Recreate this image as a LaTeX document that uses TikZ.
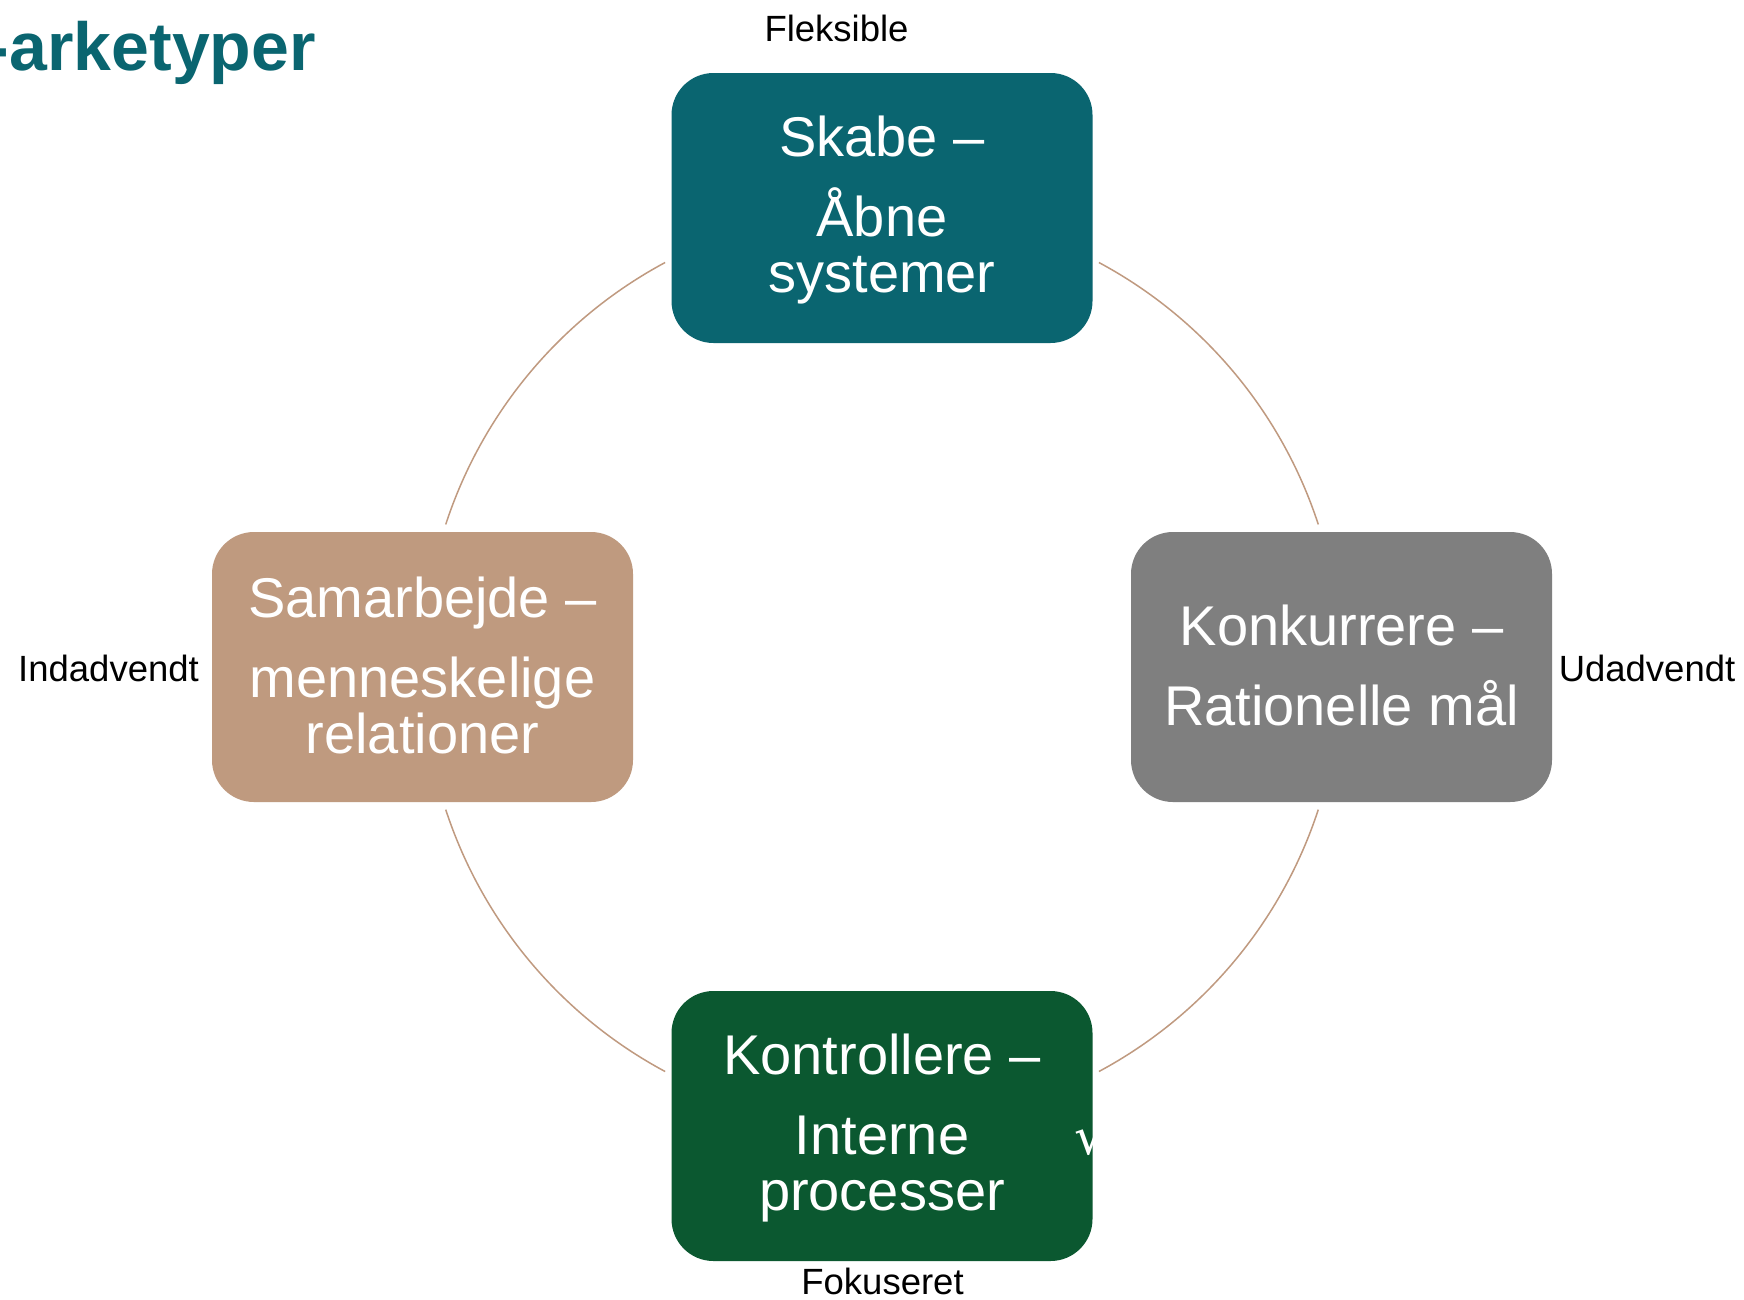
\documentclass[tikz,border=0pt]{standalone}
\usepackage{fontspec}
\setmainfont{Liberation Sans}
\newfontfamily\dejavu{DejaVu Sans}
\usetikzlibrary{calc}
\definecolor{tealbox}{HTML}{0A6570}
\definecolor{graybox}{HTML}{7F7F7F}
\definecolor{tanbox}{HTML}{BF9A7F}
\definecolor{greenbox}{HTML}{0B5830}
\definecolor{arccol}{HTML}{C09A80}
\begin{document}
\begin{tikzpicture}[x=1pt,y=-1pt,
  box/.style={rectangle, rounded corners=42pt, minimum width=421pt, minimum height=270pt, inner sep=0pt},
  boxtext/.style={text=white, align=center, inner sep=0pt, font=\fontsize{56}{56}\selectfont},
  lbl/.style={font=\fontsize{36.5}{40}\selectfont, inner sep=0pt, anchor=base, text=black},
  arcline/.style={draw=arccol, line width=1.5pt}]
\useasboundingbox (0,0) rectangle (1744,1299);
\fill[white] (0,0) rectangle (1744,1299);

% title (clipped at left edge)
\node[anchor=base east, inner sep=0pt, text=tealbox, font=\bfseries\fontsize{68}{68}\selectfont] (title) at (316,70) {-arketyper};

% centre of the cycle
\coordinate (C) at (882,667);

% boxes
\node[box, fill=tealbox] (skabe) at (882,208) {};
\node[box, fill=graybox] (konk) at (1341.5,667) {};
\node[box, fill=tanbox] (samar) at (422.5,667) {};
\node[box, fill=greenbox] (kontr) at (882,1126) {};

% box texts
\node[boxtext, yshift=-2.5pt] (skabeT) at (skabe) {Skabe –\\[24pt]Åbne\\systemer};
\node[boxtext, yshift=2pt] (konkT) at (konk) {Konkurrere –\\[24pt]Rationelle mål};
\node[boxtext, yshift=2pt] (samarT) at (samar) {Samarbejde –\\[24pt]menneskelige\\relationer};
\node[boxtext, yshift=-1.5pt] (kontrT) at (kontr) {Kontrollere –\\[24pt]Interne\\processer};

% white tick partly hidden at box edge
\node[inner sep=0pt, anchor=base west, text=white, font=\dejavu\fontsize{52}{52}\selectfont] (tick) at (1074,1154) {√};

% arcs
\coordinate (a1s) at ($(C)+(198.1:459)$);
\coordinate (a2s) at ($(C)+(298.2:459)$);
\coordinate (a3s) at ($(C)+(18.1:459)$);
\coordinate (a4s) at ($(C)+(118.2:459)$);
\draw[arcline] (a1s) arc[start angle=198.1, end angle=241.8, radius=459];
\draw[arcline] (a2s) arc[start angle=298.2, end angle=341.9, radius=459];
\draw[arcline] (a3s) arc[start angle=18.1, end angle=61.8, radius=459];
\draw[arcline] (a4s) arc[start angle=118.2, end angle=161.9, radius=459];

% axis labels
\node[lbl] (flek) at (836.5,41) {Fleksible};
\node[lbl] (indad) at (108.5,681) {Indadvendt};
\node[lbl] (udad) at (1647,681) {Udadvendt};
\node[lbl] (fokus) at (882.5,1294) {Fokuseret};
\end{tikzpicture}
\end{document}
